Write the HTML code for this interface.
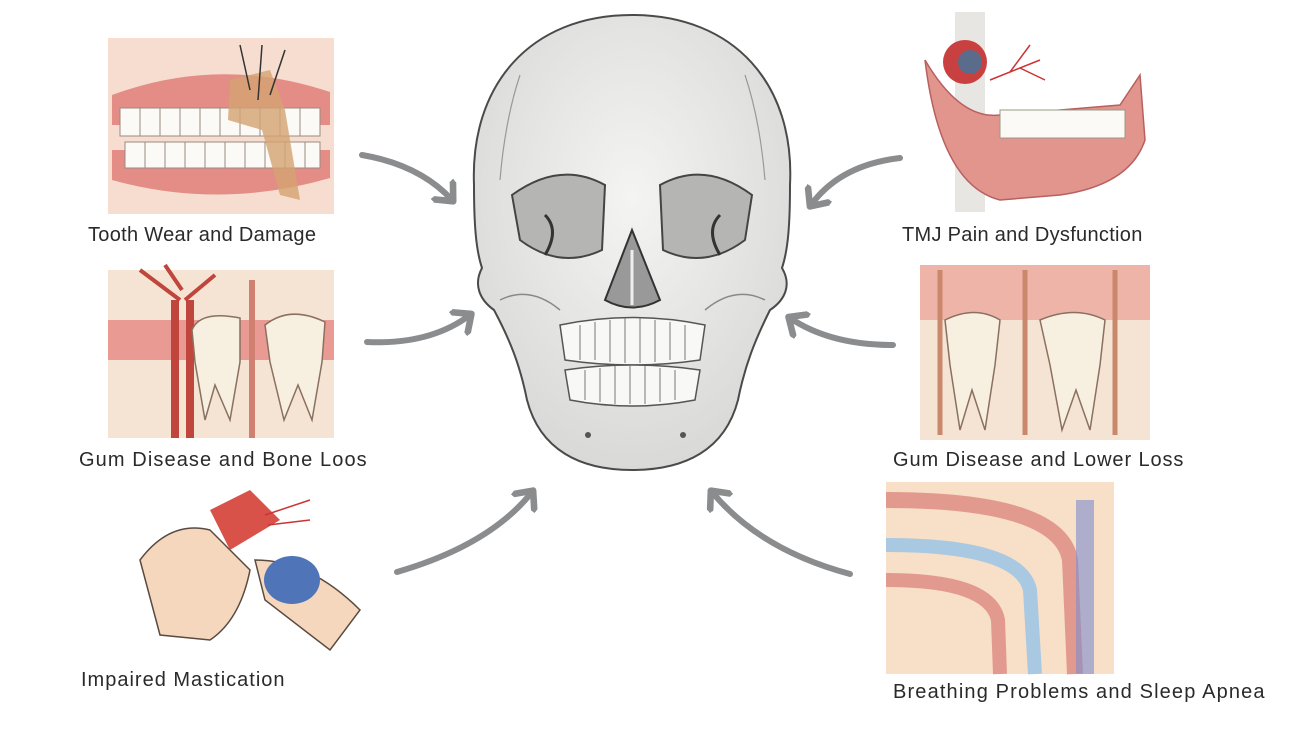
<!DOCTYPE html>
<html><head><meta charset="utf-8"><style>
html,body{margin:0;padding:0;background:#fff;}
body{width:1300px;height:731px;overflow:hidden;position:relative;font-family:"Liberation Sans","DejaVu Sans",sans-serif;}
.l{position:absolute;font-size:20px;color:#2a2a2a;white-space:nowrap;letter-spacing:0.3px;}
svg{position:absolute;left:0;top:0;}
</style></head><body>
<svg width="1300" height="731" viewBox="0 0 1300 731">
<defs>
<marker id="ah" markerWidth="5" markerHeight="5" refX="2.5" refY="2.5" orient="auto" markerUnits="strokeWidth">
<path d="M0,0 L2.8,2.5 L0,5" fill="none" stroke="#8a8c8e" stroke-width="1.1" stroke-linecap="round" stroke-linejoin="round"/></marker>
<radialGradient id="sk" cx="50%" cy="40%" r="60%"><stop offset="0" stop-color="#f4f4f3"/><stop offset="1" stop-color="#d9d9d8"/></radialGradient>
</defs>
<rect x="108" y="38" width="226" height="176" fill="#f6ddcf"/>
<path d="M112,95 Q220,55 330,92 L330,125 L112,125Z" fill="#e38d86"/>
<path d="M112,180 Q220,210 330,178 L330,150 L112,150Z" fill="#e38d86"/>
<g fill="#fbfaf6" stroke="#9a8a80" stroke-width="1">
<path d="M120,108 h200 v28 h-200z"/><path d="M125,142 h195 v26 h-195z"/></g>
<g stroke="#9a8a80" stroke-width="1">
<path d="M140,108v28M160,108v28M180,108v28M200,108v28M220,108v28M240,108v28M260,108v28M280,108v28M300,108v28M145,142v26M165,142v26M185,142v26M205,142v26M225,142v26M245,142v26M265,142v26M285,142v26M305,142v26"/></g>
<path d="M230,80 L270,70 L285,110 L300,200 L280,195 L262,130 L228,120Z" fill="#d4a270" opacity="0.8"/>
<path d="M240,45 L250,90 M262,45 L258,100 M285,50 L270,95" stroke="#333" stroke-width="1.5" fill="none"/>
<rect x="955" y="12" width="30" height="200" fill="#e8e6e2"/>
<path d="M925,60 Q960,120 1000,115 L1120,105 L1140,75 L1145,140 Q1130,185 1060,195 L1000,200 Q940,185 925,60Z" fill="#e2958c" stroke="#b86060" stroke-width="1.5"/>
<circle cx="965" cy="62" r="22" fill="#c94040"/><circle cx="970" cy="62" r="12" fill="#5a6c8c"/>
<path d="M990,80 L1040,60 M1010,72 L1030,45 M1020,68 L1045,80" stroke="#c33" stroke-width="1.5"/>
<g fill="#fbfaf6" stroke="#998" stroke-width="1"><path d="M1000,110 h125 v28 h-125z"/></g>
<rect x="108" y="270" width="226" height="168" fill="#f5e4d3"/>
<rect x="108" y="320" width="226" height="40" fill="#e89a93"/>
<path d="M175,300 L175,438 M190,300 L190,438" stroke="#c0453c" stroke-width="8"/>
<path d="M180,300 L140,270 M185,300 L215,275 M182,290 L165,265" stroke="#c0453c" stroke-width="4" fill="none"/>
<path d="M192,330 Q200,310 240,318 L240,362 L230,420 L215,385 L205,420 L195,362Z" fill="#f7efe0" stroke="#8a7060" stroke-width="1.5"/>
<path d="M265,325 Q290,305 325,322 L322,362 L312,420 L298,385 L284,420 L270,362Z" fill="#f7efe0" stroke="#8a7060" stroke-width="1.5"/>
<path d="M252,280 L252,438" stroke="#d08070" stroke-width="6"/>
<rect x="920" y="265" width="230" height="175" fill="#f5e4d3"/>
<rect x="920" y="265" width="230" height="55" fill="#eeb4a8"/>
<path d="M945,320 Q975,305 1000,320 L995,365 L985,430 L972,390 L960,430 L950,365Z" fill="#f7efe0" stroke="#8a7060" stroke-width="1.5"/>
<path d="M1040,320 Q1075,305 1105,320 L1100,365 L1090,430 L1076,390 L1062,430 L1050,365Z" fill="#f7efe0" stroke="#8a7060" stroke-width="1.5"/>
<path d="M940,270v165M1025,270v165M1115,270v165" stroke="#c9876b" stroke-width="5"/>
<path d="M140,560 Q170,520 210,530 L250,570 Q240,620 210,640 L160,635Z" fill="#f5d7bd" stroke="#5a4a40" stroke-width="1.5"/>
<path d="M255,560 Q310,560 360,610 L330,650 L265,600Z" fill="#f5d7bd" stroke="#5a4a40" stroke-width="1.5"/>
<ellipse cx="292" cy="580" rx="28" ry="24" fill="#4f75b8"/>
<path d="M210,510 L250,490 L280,520 L230,550Z" fill="#d9524a"/>
<path d="M265,515 L310,500 M268,525 L310,520" stroke="#c33" stroke-width="1.5"/>
<rect x="886" y="482" width="228" height="192" fill="#f7dfc8"/>
<path d="M886,500 Q1060,500 1070,560 L1075,674" stroke="#e39a8e" stroke-width="16" fill="none"/>
<path d="M886,545 Q1020,545 1030,590 L1035,674" stroke="#a9c9e2" stroke-width="14" fill="none"/>
<path d="M886,580 Q990,580 998,620 L1000,674" stroke="#e39a8e" stroke-width="14" fill="none"/>
<path d="M1085,500 L1085,674" stroke="#7e8ecf" stroke-width="18" opacity="0.6"/>
<path d="M632,15 C735,15 795,85 790,185 C790,225 788,250 782,268 C792,285 785,300 770,310 C755,340 745,365 738,400 C725,450 685,470 632,470 C580,470 540,450 527,400 C520,365 510,340 494,310 C480,300 473,285 482,268 C476,250 474,225 474,185 C470,85 530,15 632,15Z" fill="url(#sk)" stroke="#4a4a4a" stroke-width="2"/>
<path d="M520,75 Q505,120 500,180 M745,75 Q760,120 765,180" stroke="#999" stroke-width="1.2" fill="none"/>
<path d="M512,195 Q560,160 605,185 L602,250 Q560,270 520,240Z" fill="#b5b5b4" stroke="#444" stroke-width="2"/>
<path d="M752,195 Q705,160 660,185 L663,250 Q705,270 745,240Z" fill="#b5b5b4" stroke="#444" stroke-width="2"/>
<path d="M545,215 Q560,230 545,255 M720,215 Q705,230 720,255" stroke="#333" stroke-width="3" fill="none"/>
<path d="M632,230 L605,300 Q632,315 660,300Z" fill="#999" stroke="#333" stroke-width="2"/>
<path d="M632,250 L632,305" stroke="#eee" stroke-width="3"/>
<path d="M500,300 Q530,285 560,310 M765,300 Q735,285 705,310" stroke="#888" stroke-width="1.5" fill="none"/>
<path d="M560,325 Q632,310 705,325 L700,360 Q632,370 565,360Z" fill="#f8f8f6" stroke="#555" stroke-width="1.5"/>
<path d="M565,370 Q632,360 700,370 L695,400 Q632,412 570,400Z" fill="#f8f8f6" stroke="#555" stroke-width="1.5"/>
<g stroke="#777" stroke-width="1"><path d="M580,325v35M595,322v38M610,320v42M625,318v45M640,318v45M655,320v42M670,322v38M685,325v35M585,370v30M600,368v34M615,366v38M630,366v38M645,366v38M660,368v34M675,370v30"/></g>
<circle cx="588" cy="435" r="3" fill="#555"/><circle cx="683" cy="435" r="3" fill="#555"/>
<g fill="none" stroke="#8a8c8e" stroke-width="6" stroke-linecap="round" marker-end="url(#ah)">
<path d="M362,155 Q420,165 452,200"/>
<path d="M367,342 Q430,345 470,315"/>
<path d="M397,572 Q490,545 532,492"/>
<path d="M900,158 Q840,165 811,205"/>
<path d="M893,345 Q830,345 790,318"/>
<path d="M850,574 Q760,550 712,492"/>
</g>
</svg>
<div class="l" style="left:88px;top:224px">Tooth Wear and Damage</div>
<div class="l" style="left:902px;top:224px">TMJ Pain and Dysfunction</div>
<div class="l" style="left:79px;top:449px;letter-spacing:1.1px">Gum Disease and Bone Loos</div>
<div class="l" style="left:893px;top:449px;letter-spacing:0.9px">Gum Disease and Lower Loss</div>
<div class="l" style="left:81px;top:669px;letter-spacing:1.0px">Impaired Mastication</div>
<div class="l" style="left:893px;top:681px;letter-spacing:1.15px">Breathing Problems and Sleep Apnea</div>
</body></html>
